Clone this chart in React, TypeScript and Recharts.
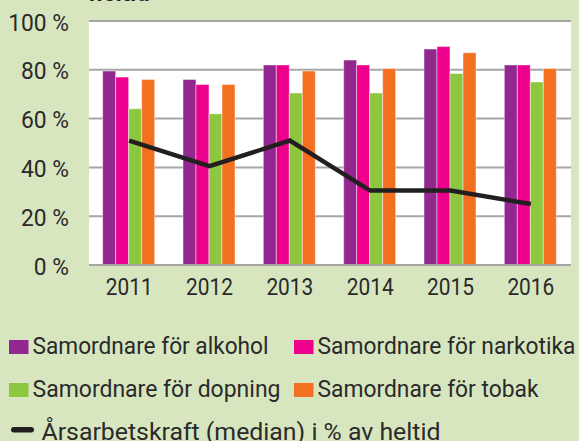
import { ComposedChart, Bar, Line, XAxis, YAxis, CartesianGrid } from "recharts";

const years = ["2011", "2012", "2013", "2014", "2015", "2016"];
const alkohol = [79.5, 76, 82, 84, 88.5, 82];
const narkotika = [77, 74, 82, 82, 89.5, 82];
const dopning = [64, 62, 70.5, 70.5, 78.5, 75];
const tobak = [76, 74, 79.5, 80.5, 87, 80.5];
const median = [51, 40.5, 51, 30.5, 30.5, 25];
const yTicks = [0, 20, 40, 60, 80, 100];

const FONT = "Roboto, 'Open Sans', sans-serif";
const BG = "#d8e6c0";
const GRID = "#a6a6a6";
const TEXT = "#2a2a2a";

const barSeries = [
  { key: "alkohol", name: "Samordnare för alkohol", color: "#92278f" },
  { key: "narkotika", name: "Samordnare för narkotika", color: "#ec008c" },
  { key: "dopning", name: "Samordnare för dopning", color: "#8dc63f" },
  { key: "tobak", name: "Samordnare för tobak", color: "#f37021" },
];
const lineName = "Årsarbetskraft (median) i % av heltid";

const data = years.map((year, i) => ({
  year,
  alkohol: alkohol[i],
  narkotika: narkotika[i],
  dopning: dopning[i],
  tobak: tobak[i],
  median: median[i],
}));

// narrow Roboto a bit so it reads like the condensed original
const XTick = ({ x, y, payload }: any) => (
  <text
    transform={`translate(${x} ${y + 16}) scale(0.87 1)`}
    textAnchor="middle"
    fontFamily={FONT}
    fontSize={24}
    fill={TEXT}
  >
    {payload.value}
  </text>
);

const YTick = ({ x, y, payload }: any) => (
  <text
    transform={`translate(${x} ${y + 9.5}) scale(0.95 1)`}
    textAnchor="end"
    fontFamily={FONT}
    fontSize={24}
    fill={TEXT}
  >
    {`${payload.value} %`}
  </text>
);

function Legend() {
  const items = [
    { s: barSeries[0], x: 9, base: 354, w: 236 },
    { s: barSeries[1], x: 294, base: 354, w: 258 },
    { s: barSeries[2], x: 9, base: 397, w: 248 },
    { s: barSeries[3], x: 294, base: 397, w: 221 },
  ];
  return (
    <svg width={579} height={441} style={{ position: "absolute", left: 0, top: 0, pointerEvents: "none" }}>
      {items.map(({ s, x, base, w }) => (
        <g key={s.key}>
          <rect x={x} y={base - 14} width={19.5} height={14} fill={s.color} />
          <text
            x={x + 23.5}
            y={base}
            fontFamily={FONT}
            fontSize={24}
            fill={TEXT}
            textLength={w}
            lengthAdjust="spacingAndGlyphs"
          >
            {s.name}
          </text>
        </g>
      ))}
      <rect x={11} y={427} width={23} height={5.5} rx={2.75} fill="#231f20" />
      <text
        x={41.5}
        y={439.5}
        fontFamily={FONT}
        fontSize={24}
        fill={TEXT}
        textLength={399}
        lengthAdjust="spacingAndGlyphs"
      >
        {lineName}
      </text>
    </svg>
  );
}

export default function App() {
  return (
    <div style={{ position: "fixed", left: 0, top: 0, width: 579, height: 441, background: BG, overflow: "hidden" }}>
      <div
        style={{
          position: "absolute",
          left: 89,
          top: -19,
          fontFamily: FONT,
          fontWeight: "bold",
          fontSize: 24,
          lineHeight: "24px",
          color: "#231f20",
        }}
      >
        heltid
      </div>
      <ComposedChart
        width={579}
        height={300}
        data={data}
        margin={{ top: 21, right: 8, left: 0, bottom: 0 }}
        barCategoryGap="17%"
        barGap={0}
      >
        <CartesianGrid vertical={false} stroke={GRID} strokeWidth={2} fill="#ffffff" />
        <XAxis
          dataKey="year"
          height={35}
          tickLine={false}
          tickSize={0}
          tickMargin={14}
          axisLine={{ stroke: GRID, strokeWidth: 2 }}
          tick={<XTick />}
        />
        <YAxis
          width={89}
          domain={[0, 100]}
          ticks={yTicks}
          interval={0}
          tickLine={false}
          tickSize={0}
          tickMargin={20}
          axisLine={false}
          tick={<YTick />}
        />
        {barSeries.map((s) => (
          <Bar
            key={s.key}
            dataKey={s.key}
            name={s.name}
            fill={s.color}
            stroke="#ffffff"
            strokeOpacity={0.45}
            strokeWidth={1}
            isAnimationActive={false}
          />
        ))}
        <Line
          type="linear"
          dataKey="median"
          name={lineName}
          stroke="#231f20"
          strokeWidth={4.5}
          dot={false}
          activeDot={false}
          isAnimationActive={false}
        />
      </ComposedChart>
      <Legend />
    </div>
  );
}
